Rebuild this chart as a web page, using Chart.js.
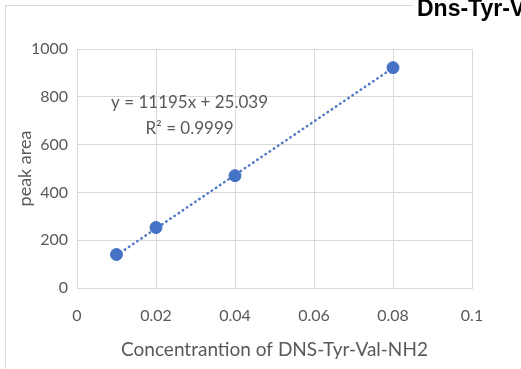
<!DOCTYPE html>
<html>
<head>
<meta charset="utf-8">
<script src="https://cdn.jsdelivr.net/npm/chart.js@4.4.0/dist/chart.umd.min.js"></script>
<style>
  html, body { margin: 0; padding: 0; background: #ffffff; }
  #wrap { width: 521px; height: 369px; position: relative; }
</style>
</head>
<body>
<div id="wrap"><canvas id="c" width="521" height="369"></canvas></div>
<script>
// ---- data ----
const concentrations = [0.01, 0.02, 0.04, 0.08];
const peakAreas = [140, 253, 470, 922];
const trendX = [0.01, 0.08];
const trendY = [137, 921];
const xTicks = [0, 0.02, 0.04, 0.06, 0.08, 0.1];
const yTicks = [0, 200, 400, 600, 800, 1000];
const titleText = 'Dns-Tyr-Val-NH2';
const xTitle = 'Concentrantion of DNS-Tyr-Val-NH2';
const yTitle = 'peak area';
const equationLines = ['y = 11195x + 25.039', 'R\u00B2 = 0.9999'];

const FONT = 'Lato, "Open Sans", sans-serif';
const GRID = '#d9d9d9';
const TEXT = '#595959';
const BLUE = '#4472C4';

const overlay = {
  id: 'overlay',
  afterDraw(chart) {
    const ctx = chart.ctx;
    const xs = chart.scales.x, ys = chart.scales.y;
    ctx.save();
    // outer frame
    ctx.strokeStyle = GRID;
    ctx.lineWidth = 1;
    ctx.beginPath();
    ctx.moveTo(5.5, 369);
    ctx.lineTo(5.5, 5.5);
    ctx.lineTo(413, 5.5);
    ctx.stroke();
    // clipped title
    ctx.fillStyle = '#000000';
    ctx.font = 'bold 23px "Liberation Sans", Arial, sans-serif';
    ctx.textAlign = 'left';
    ctx.textBaseline = 'alphabetic';
    ctx.fillText(titleText, 417, 16);
    // trendline label
    ctx.fillStyle = TEXT;
    ctx.font = '17px ' + FONT;
    ctx.textAlign = 'center';
    ctx.textBaseline = 'middle';
    const cx = xs.getPixelForValue(0.0285);
    ctx.fillText(equationLines[0], cx, ys.getPixelForValue(777));
    ctx.fillText(equationLines[1], cx, ys.getPixelForValue(668));
    ctx.restore();
  }
};

new Chart(document.getElementById('c'), {
  type: 'scatter',
  data: {
    datasets: [
      {
        label: 'trend',
        type: 'line',
        data: trendX.map((x, i) => ({ x: x, y: trendY[i] })),
        borderColor: '#4f79c2',
        borderWidth: 2.5,
        borderDash: [0.5, 4.5],
        borderCapStyle: 'round',
        pointRadius: 0,
        fill: false,
        order: 2
      },
      {
        label: 'peak area',
        data: concentrations.map((x, i) => ({ x: x, y: peakAreas[i] })),
        backgroundColor: BLUE,
        borderColor: BLUE,
        pointRadius: 6,
        pointHoverRadius: 6,
        order: 1
      }
    ]
  },
  options: {
    responsive: false,
    animation: false,
    events: [],
    layout: { padding: { left: 0, right: 49, top: 49, bottom: 0 } },
    plugins: { legend: { display: false }, tooltip: { enabled: false }, title: { display: false } },
    scales: {
      x: {
        type: 'linear',
        min: 0, max: 0.1,
        afterBuildTicks(s) { s.ticks = xTicks.map(v => ({ value: v })); },
        afterFit(s) { s.height = 81; },
        grid: { color: GRID, drawTicks: false },
        border: { color: GRID },
        ticks: {
          padding: 18,
          color: TEXT,
          font: { family: FONT, size: 16 },
          callback: v => String(v)
        },
        title: {
          display: true, text: xTitle, color: TEXT,
          font: { family: FONT, size: 19 },
          padding: { top: 0, bottom: 8 }
        }
      },
      y: {
        type: 'linear',
        min: 0, max: 1000,
        afterBuildTicks(s) { s.ticks = yTicks.map(v => ({ value: v })); },
        afterFit(s) { s.width = 77; },
        grid: { color: GRID, drawTicks: false },
        border: { color: GRID },
        ticks: {
          padding: 9,
          color: TEXT,
          font: { family: FONT, size: 16 },
          callback: v => String(v)
        },
        title: {
          display: true, text: yTitle, color: TEXT,
          font: { family: FONT, size: 18 },
          padding: { top: 14, bottom: 0 }
        }
      }
    }
  },
  plugins: [overlay]
});
</script>
</body>
</html>
